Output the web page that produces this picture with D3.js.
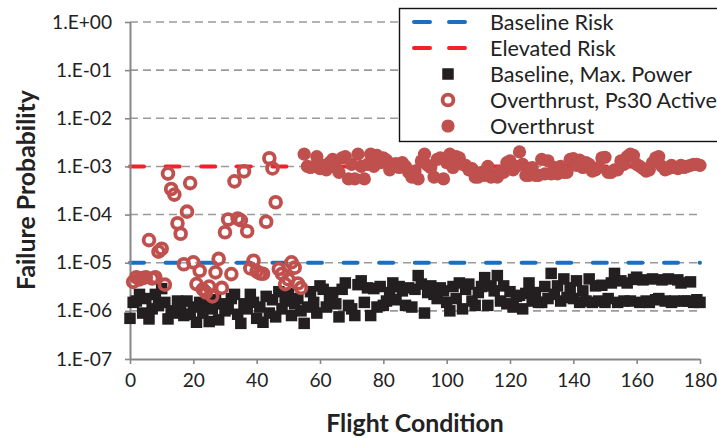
<!DOCTYPE html>
<html>
<head>
<meta charset="utf-8">
<script src="https://cdnjs.cloudflare.com/ajax/libs/d3/7.8.5/d3.min.js"></script>
<style>
  html, body { margin: 0; padding: 0; background: #fff; }
  svg { display: block; }
  text { font-family: Lato, "Open Sans", sans-serif; fill: #222; }
</style>
</head>
<body>
<svg id="chart" width="717" height="438"></svg>
<script>
// ---------------- DATA ----------------
const yTickValues = [1e0, 1e-1, 1e-2, 1e-3, 1e-4, 1e-5, 1e-6, 1e-7];
const yTickLabels = ["1.E+00", "1.E-01", "1.E-02", "1.E-03", "1.E-04", "1.E-05", "1.E-06", "1.E-07"];
const xTickValues = [0, 20, 40, 60, 80, 100, 120, 140, 160, 180];

const baselineRisk = 1e-5;
const elevatedRisk = 1e-3;
const riskRange = [0, 180];

// Baseline, Max. Power (flight conditions 0..180)
const baselineStart = 0;
const baselineValues = [
  7e-7, 1.5e-6, 1.6e-6, 2.2e-6, 9e-7, 1.8e-6, 6.8e-7, 1.1e-6, 2.2e-6, 1.3e-6,
  2.9e-6, 1.5e-6, 6.8e-7, 1.0e-6, 9e-7, 1.6e-6, 1.2e-6, 8e-7, 1.6e-6, 8.5e-7,
  1.2e-6, 5.8e-7, 1.5e-6, 9e-7, 1.4e-6, 6e-7, 1.1e-6, 1.7e-6, 6.5e-7, 1.4e-6,
  1.0e-6, 1.1e-6, 1.8e-6, 2.2e-6, 8.5e-7, 5.5e-7, 1.4e-6, 1.1e-6, 2.2e-6, 1.5e-6,
  7e-7, 1.2e-6, 5.8e-7, 2.0e-6, 9e-7, 1.7e-6, 7.5e-7, 2.5e-6, 1.1e-6, 1.6e-6,
  2.3e-6, 8e-7, 1.4e-6, 1.8e-6, 1.0e-6, 5.5e-7, 1.2e-6, 2.5e-6, 1.5e-6, 9e-7,
  3.3e-6, 2.8e-6, 1.2e-6, 2.0e-6, 2.4e-6, 1.4e-6, 7.5e-7, 2.8e-6, 3.8e-6, 1.3e-6,
  1.1e-6, 8e-7, 3.5e-6, 4.2e-6, 1.5e-6, 3.0e-6, 8e-7, 2.9e-6, 1.2e-6, 3.2e-6,
  1.3e-6, 1.6e-6, 2.4e-6, 3.8e-6, 1.7e-6, 3.2e-6, 2.6e-6, 1.3e-6, 3.0e-6, 1.2e-6,
  2.8e-6, 5.4e-6, 3.6e-6, 9e-7, 2.4e-6, 3.3e-6, 2.2e-6, 1.8e-6, 3.0e-6, 2.6e-6,
  1.5e-6, 1.0e-6, 3.2e-6, 1.8e-6, 3.8e-6, 1.1e-6, 2.8e-6, 3.6e-6, 1.6e-6, 1.3e-6,
  2.4e-6, 3.2e-6, 4.9e-6, 1.3e-6, 3.3e-6, 2.6e-6, 5.4e-6, 1.6e-6, 3.3e-6, 1.4e-6,
  2.5e-6, 1.2e-6, 2.0e-6, 2.1e-6, 1.1e-6, 2.3e-6, 3.8e-6, 1.6e-6, 2.4e-6, 1.5e-6,
  1.5e-6, 3.2e-6, 1.8e-6, 6.0e-6, 2.2e-6, 3.3e-6, 1.6e-6, 4.6e-6, 1.9e-6, 3.0e-6,
  1.8e-6, 4.2e-6, 1.5e-6, 2.6e-6, 1.6e-6, 4.6e-6, 1.5e-6, 3.3e-6, 1.6e-6, 3.4e-6,
  1.5e-6, 1.8e-6, 3.8e-6, 6.0e-6, 1.5e-6, 4.2e-6, 1.6e-6, 3.8e-6, 1.6e-6, 4.5e-6,
  5.0e-6, 1.5e-6, 4.4e-6, 1.6e-6, 1.5e-6, 4.6e-6, 1.7e-6, 1.8e-6, 4.4e-6, 1.6e-6,
  4.6e-6, 1.5e-6, 1.6e-6, 4.4e-6, 3.8e-6, 1.6e-6, 1.6e-6, 4.0e-6, 1.5e-6, 1.7e-6,
  1.5e-6
];

// Overthrust, Ps30 Active (flight conditions 1..54)
const ps30Start = 1;
const ps30Values = [
  4.0e-6, 5.0e-6, 4.5e-6, 4.8e-6, 5.0e-6, 2.95e-5, 4.7e-6, 5.0e-6, 1.7e-5, 1.95e-5,
  3.5e-6, 7.1e-4, 3.4e-4, 2.6e-4, 6.6e-5, 4.0e-5, 9.3e-6, 1.15e-4, 4.5e-4, 1.02e-5,
  3.6e-6, 6.8e-6, 2.8e-6, 2.4e-6, 3.2e-6, 2.0e-6, 6.3e-6, 1.2e-5, 3.0e-6, 4.3e-5,
  7.9e-5, 5.8e-6, 4.9e-4, 8.3e-5, 7.6e-5, 7.9e-4, 4.5e-5, 7.6e-6, 1.1e-5, 6.6e-6,
  6.0e-6, 5.9e-6, 7.1e-5, 1.48e-3, 9.1e-4, 1.8e-4, 7.4e-6, 5.9e-6, 3.6e-6, 4.5e-6,
  1.02e-5, 7.9e-6, 3.7e-6, 3.0e-6
];

// Overthrust (flight conditions 55..180)
const overStart = 55;
const overValues = [
  1.8e-3, 1.0e-3, 9.5e-4, 1.0e-3, 1.6e-3, 9.0e-4, 1.05e-3, 8.5e-4, 1.2e-3, 1.4e-3,
  9.5e-4, 7.5e-4, 1.5e-3, 1.6e-3, 5.5e-4, 1.1e-3, 5.5e-4, 1.8e-3, 1.0e-3, 5.5e-4,
  1.1e-3, 1.8e-3, 1.0e-3, 1.7e-3, 1.2e-3, 1.5e-3, 1.35e-3, 8.5e-4, 1.1e-3, 1.15e-3,
  9.5e-4, 1.2e-3, 1.0e-3, 7.5e-4, 6.0e-4, 8.0e-4, 5.5e-4, 1.3e-3, 1.8e-3, 1.05e-3,
  9.5e-4, 6.0e-4, 1.4e-3, 1.5e-3, 5.5e-4, 1.2e-3, 1.8e-3, 9.5e-4, 1.6e-3, 1.5e-3,
  1.1e-3, 1.05e-3, 8.5e-4, 9.0e-4, 6.0e-4, 6.0e-4, 7.5e-4, 6.5e-4, 1.0e-3, 6.0e-4,
  6.5e-4, 6.0e-4, 8.0e-4, 7.5e-4, 1.2e-3, 1.3e-3, 8.5e-4, 1.0e-3, 2.0e-3, 1.1e-3,
  6.5e-4, 6.5e-4, 9.5e-4, 6.5e-4, 6.5e-4, 1.4e-3, 7.0e-4, 1.3e-3, 7.0e-4, 9.5e-4,
  7.0e-4, 1.0e-3, 7.5e-4, 7.5e-4, 1.4e-3, 1.45e-3, 1.05e-3, 1.35e-3, 9.5e-4, 1.2e-3,
  1.1e-3, 8.0e-4, 8.5e-4, 9.5e-4, 1.5e-3, 1.55e-3, 7.5e-4, 7.5e-4, 8.5e-4, 8.5e-4,
  1.3e-3, 1.1e-3, 1.6e-3, 1.8e-3, 1.7e-3, 1.1e-3, 1.0e-3, 9.0e-4, 8.0e-4, 8.5e-4,
  1.2e-3, 1.5e-3, 1.6e-3, 1.0e-3, 8.5e-4, 9.0e-4, 1.05e-3, 9.5e-4, 9.0e-4, 1.05e-3,
  9.5e-4, 1.0e-3, 1.05e-3, 1.1e-3, 1.1e-3, 1.05e-3
];

const legendLabels = ["Baseline Risk", "Elevated Risk", "Baseline, Max. Power", "Overthrust, Ps30 Active", "Overthrust"];

// ---------------- CHART ----------------
const svg = d3.select("#chart");
const plot = { left: 130, right: 700, top: 22, bottom: 359 };

const x = d3.scaleLinear().domain([0, 180]).range([plot.left, plot.right]);
const y = d3.scaleLog().domain([1e-7, 1]).range([plot.bottom, plot.top]);

const axisColor = "#878787";
const blue = "#1a6fc0";
const red = "#f52129";
const marker = "#c0504d";
const black = "#231f20";

// helper: font-size that makes text fit a given width
function fitSize(text, width, weight) {
  const t = svg.append("text").attr("font-size", 100).attr("font-weight", weight || "normal").text(text);
  const w = t.node().getComputedTextLength();
  t.remove();
  return 100 * width / w;
}

// gridlines
svg.append("g").selectAll("line")
  .data(yTickValues.filter(v => v > 1e-7))
  .join("line")
  .attr("x1", x(0)).attr("x2", x(180))
  .attr("y1", d => y(d)).attr("y2", d => y(d))
  .attr("stroke", "#9a9a9a").attr("stroke-width", 1.6)
  .attr("stroke-dasharray", "8,5");

// risk lines
function riskLine(v, color) {
  svg.append("line")
    .attr("x1", x(riskRange[0])).attr("x2", x(riskRange[1]))
    .attr("y1", y(v)).attr("y2", y(v))
    .attr("stroke", color).attr("stroke-width", 4)
    .attr("stroke-linecap", "round")
    .attr("stroke-dasharray", "14,21.6");
}
riskLine(baselineRisk, blue);
riskLine(elevatedRisk, red);

// axes
const tickFont = fitSize("1.E+00", 60);
const yAxis = d3.axisLeft(y).tickValues(yTickValues)
  .tickFormat((d, i) => yTickLabels[i]).tickSize(5).tickPadding(13);
const gy = svg.append("g").attr("transform", `translate(${plot.left},0)`).call(yAxis);
const xAxis = d3.axisBottom(x).tickValues(xTickValues).tickSize(5).tickPadding(9);
const gx = svg.append("g").attr("transform", `translate(0,${plot.bottom})`).call(xAxis);
[gx, gy].forEach(g => {
  g.select(".domain").attr("stroke", axisColor).attr("stroke-width", 2);
  g.selectAll(".tick line").attr("stroke", axisColor).attr("stroke-width", 1.6);
  g.selectAll(".tick text").attr("font-size", tickFont).attr("font-family", "Lato, 'Open Sans', sans-serif").attr("fill", "#1a1a1a");
});
gy.select(".domain").attr("d", `M0.5,${plot.bottom}V${plot.top}`);
gx.select(".domain").attr("d", `M${plot.left},0.5H${plot.right}`);

// squares
const sq = 11.5;
svg.append("g").selectAll("rect")
  .data(baselineValues)
  .join("rect")
  .attr("x", (d, i) => x(baselineStart + i) - sq / 2)
  .attr("y", d => y(d) - sq / 2)
  .attr("width", sq).attr("height", sq)
  .attr("fill", black);

// open circles
const openR = 5.4, openW = 3.8, fillR = 6.6;
svg.append("g").selectAll("circle")
  .data(ps30Values)
  .join("circle")
  .attr("cx", (d, i) => x(ps30Start + i))
  .attr("cy", d => y(d))
  .attr("r", openR)
  .attr("fill", "none")
  .attr("stroke", marker).attr("stroke-width", openW);

// filled circles
svg.append("g").selectAll("circle")
  .data(overValues)
  .join("circle")
  .attr("cx", (d, i) => x(overStart + i))
  .attr("cy", d => y(d))
  .attr("r", fillR)
  .attr("fill", marker);

// axis titles
const titleFont = fitSize("Failure Probability", 200, "bold");
svg.append("text")
  .attr("transform", `translate(25,190) rotate(-90)`)
  .attr("text-anchor", "middle").attr("dominant-baseline", "central")
  .attr("font-weight", "bold").attr("font-size", titleFont)
  .text("Failure Probability");
svg.append("text")
  .attr("x", (plot.left + plot.right) / 2).attr("y", 422)
  .attr("text-anchor", "middle").attr("dominant-baseline", "central")
  .attr("font-weight", "bold").attr("font-size", titleFont)
  .text("Flight Condition");

// legend
const lg = svg.append("g");
lg.append("rect").attr("x", 399.5).attr("y", 8.5).attr("width", 330).attr("height", 133)
  .attr("fill", "#fff").attr("stroke", "#111").attr("stroke-width", 1.4);
const legendFont = fitSize(legendLabels[3], 227);
const rowY = i => 22 + i * 26;
legendLabels.forEach((lab, i) => {
  lg.append("text").attr("x", 490).attr("y", rowY(i))
    .attr("dominant-baseline", "central").attr("font-size", legendFont).text(lab);
});
[[blue, 0], [red, 1]].forEach(([c, i]) => {
  lg.append("line").attr("x1", 414).attr("x2", 466)
    .attr("y1", rowY(i)).attr("y2", rowY(i))
    .attr("stroke", c).attr("stroke-width", 4).attr("stroke-linecap", "round")
    .attr("stroke-dasharray", "16,19");
});
lg.append("rect").attr("x", 448 - sq / 2).attr("y", rowY(2) - sq / 2)
  .attr("width", sq).attr("height", sq).attr("fill", black);
lg.append("circle").attr("cx", 448).attr("cy", rowY(3)).attr("r", openR)
  .attr("fill", "none").attr("stroke", marker).attr("stroke-width", openW);
lg.append("circle").attr("cx", 448).attr("cy", rowY(4)).attr("r", fillR).attr("fill", marker);
</script>
</body>
</html>
